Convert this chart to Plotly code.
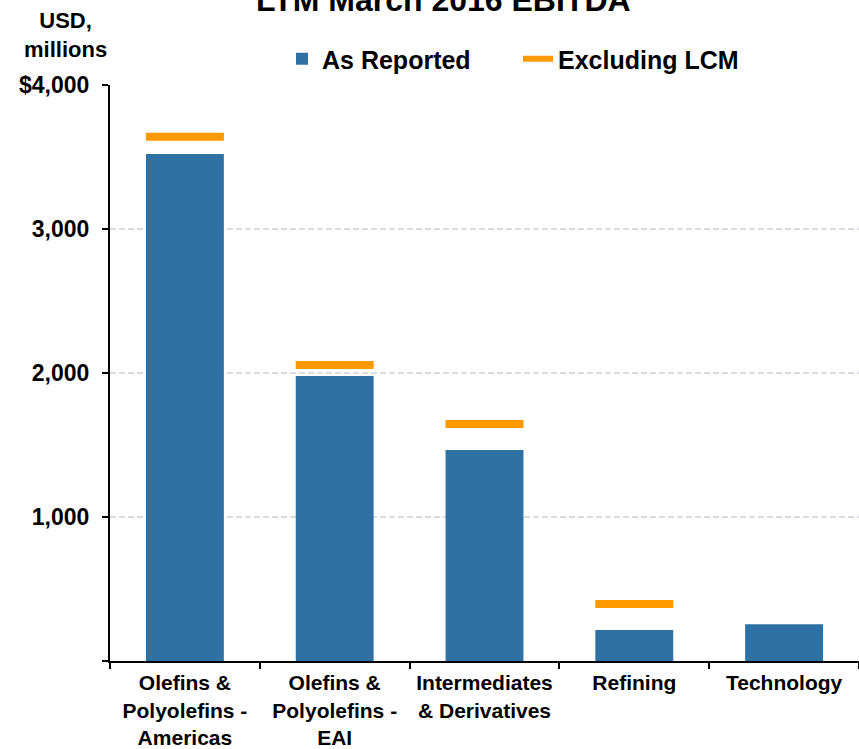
import plotly.graph_objects as go

# Segment EBITDA, last twelve months to March 2016 (USD millions)
segments = [
    "Olefins &<br>Polyolefins -<br>Americas",
    "Olefins &<br>Polyolefins -<br>EAI",
    "Intermediates<br>& Derivatives",
    "Refining",
    "Technology",
]
as_reported = [3520, 1980, 1465, 215, 255]
excluding_lcm = [3640, 2055, 1645, 395, None]

y_tick_vals = [0, 1000, 2000, 3000, 4000]
y_tick_text = ["", "1,000", "2,000", "3,000", "$4,000"]

BLUE = "#3071A4"
ORANGE = "#FF9900"
FONT = "Liberation Sans, Arial, sans-serif"

fig = go.Figure()

fig.add_trace(go.Bar(
    x=segments,
    y=as_reported,
    name="As Reported",
    marker=dict(color=BLUE, line=dict(width=0)),
    width=0.52,
))

# Excluding-LCM level drawn as a horizontal dash over each bar
fig.add_trace(go.Scatter(
    x=segments,
    y=excluding_lcm,
    mode="markers",
    name="Excluding LCM",
    legendgroup="lcm",
    showlegend=False,
    marker=dict(symbol="line-ew", size=55.7,
                line=dict(color=ORANGE, width=8)),
    cliponaxis=False,
))

# Legend entry for the dashes
fig.add_trace(go.Scatter(
    x=[None], y=[None],
    mode="lines",
    name="Excluding LCM",
    legendgroup="lcm",
    line=dict(color=ORANGE, width=6),
))

fig.update_layout(
    width=859,
    height=749,
    margin=dict(l=110, r=0, t=85, b=88),
    paper_bgcolor="white",
    plot_bgcolor="white",
    font=dict(family=FONT, color="black"),
    bargap=0.48,
    showlegend=True,
    legend=dict(
        orientation="h",
        x=(282 - 110) / 749, xanchor="left",
        y=(661 - 59) / 576, yanchor="middle",
        yref="paper",
        font=dict(family=FONT, size=25, color="black", weight="bold"),
        entrywidth=191,
        traceorder="normal",
        bgcolor="rgba(0,0,0,0)",
        borderwidth=0,
    ),
    annotations=[
        dict(
            text="<b>LTM March 2016 EBITDA</b>",
            xref="paper", yref="paper",
            x=(443 - 110) / 749, xanchor="center",
            y=(661 - 20) / 576, yanchor="bottom",
            showarrow=False,
            font=dict(family=FONT, size=32, color="black"),
        ),
        dict(
            text="<b>USD,<br>millions</b>",
            xref="paper", yref="paper",
            x=(65 - 110) / 749, xanchor="center",
            y=(661 - 35) / 576, yanchor="middle",
            showarrow=False,
            font=dict(family=FONT, size=22, color="black"),
        ),
    ],
)

fig.update_xaxes(
    type="category",
    range=[-0.5, 4.5],
    automargin=False,
    showline=True, linecolor="black", linewidth=2,
    ticks="outside", ticklen=6, tickwidth=2, tickcolor="black",
    tickson="boundaries",
    ticklabelstandoff=2,
    showgrid=False,
    tickfont=dict(family=FONT, size=21, color="black", weight="bold"),
)

fig.update_yaxes(
    range=[0, 4000],
    automargin=False,
    tickvals=y_tick_vals,
    ticktext=y_tick_text,
    showline=True, linecolor="black", linewidth=2,
    ticks="outside", ticklen=6, tickwidth=2, tickcolor="black",
    ticklabelstandoff=8,
    showgrid=True, gridcolor="#D9DDE3", gridwidth=1.5, griddash="6px,3px",
    zeroline=False,
    tickfont=dict(family=FONT, size=23, color="black", weight="bold"),
)

fig.write_html("out.html")
